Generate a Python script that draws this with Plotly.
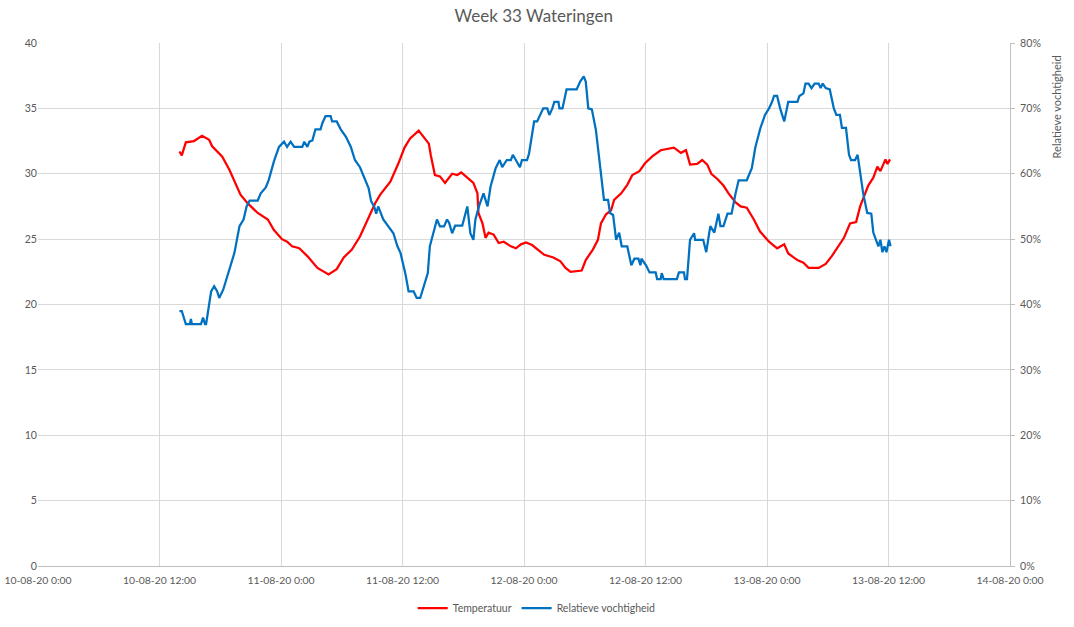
import pandas as pd
import plotly.graph_objects as go

# ---- data (hours after 10-08-20 0:00) ----
temp_hours = [13.97, 14.2, 14.6, 15.4, 16.2, 16.9, 17.2, 18.2, 18.9, 19.5, 20.0, 20.7, 21.7, 22.7, 23.3,
              24.1, 24.6, 25.1, 25.8, 26.6, 27.6, 28.7, 29.5, 30.2, 31.0, 31.8, 32.6, 33.3, 33.8, 34.8,
              35.6, 36.2, 36.75, 37.6, 38.1, 38.6, 38.8, 39.2, 39.7, 40.2, 40.9, 41.4, 41.8, 42.4, 43.0,
              43.4, 43.5, 43.9, 44.2, 44.5, 45.0, 45.5, 46.0, 46.7, 47.2, 47.7, 48.2, 48.8, 49.3, 50.0,
              50.9, 51.6, 52.1, 52.6, 53.7, 54.1, 54.8, 55.3, 55.6, 56.1, 56.6, 56.9, 57.6, 58.2, 58.7,
              59.4, 59.95, 60.7, 61.5, 62.8, 63.5, 64.0, 64.4, 65.1, 65.6, 66.1, 66.5, 67.1, 67.7, 68.2,
              68.9, 69.4, 70.0, 70.7, 71.3, 72.2, 73.0, 73.7, 74.1, 75.0, 75.6, 76.1, 77.1, 77.8, 78.4,
              79.2, 79.6, 80.2, 80.8, 81.2, 82.0, 82.5, 82.9, 83.2, 83.7, 83.9, 84.15]
temperatuur = [31.7, 31.4, 32.4, 32.5, 32.9, 32.6, 32.1, 31.3, 30.3, 29.3, 28.4, 27.75, 27.0, 26.5, 25.7,
               25.0, 24.8, 24.45, 24.3, 23.7, 22.8, 22.3, 22.7, 23.6, 24.2, 25.2, 26.5, 27.75, 28.4, 29.4,
               30.8, 32.0, 32.7, 33.3, 32.8, 32.3, 31.4, 29.9, 29.8, 29.3, 30.0, 29.9, 30.1, 29.7, 29.3,
               28.5, 27.0, 26.2, 25.1, 25.5, 25.35, 24.7, 24.8, 24.45, 24.3, 24.6, 24.75, 24.55, 24.25, 23.8,
               23.6, 23.3, 22.8, 22.5, 22.6, 23.4, 24.2, 24.95, 26.2, 26.9, 27.2, 28.0, 28.5, 29.15, 29.9,
               30.2, 30.8, 31.35, 31.8, 32.0, 31.6, 31.8, 30.7, 30.75, 31.05, 30.7, 30.0, 29.6, 29.1, 28.5,
               27.8, 27.5, 27.4, 26.5, 25.6, 24.8, 24.3, 24.6, 23.9, 23.4, 23.2, 22.8, 22.8, 23.1, 23.7,
               24.6, 25.1, 26.2, 26.3, 27.5, 29.1, 29.7, 30.55, 30.2, 31.1, 30.75, 31.1]

rh_hours = [13.97, 14.2, 14.6, 15.0, 15.1, 15.2, 16.1, 16.3, 16.5, 16.6, 17.1, 17.4, 17.7, 17.9, 18.3,
            18.6, 19.0, 19.4, 19.9, 20.3, 20.6, 20.9, 21.7, 22.0, 22.5, 22.8, 23.3, 23.8, 24.3, 24.6,
            24.95, 25.3, 26.1, 26.3, 26.6, 26.8, 27.1, 27.4, 27.9, 28.1, 28.4, 28.9, 29.05, 29.5, 29.9,
            30.4, 30.9, 31.3, 31.8, 32.3, 32.65, 32.9, 33.2, 33.4, 33.6, 34.1, 34.6, 35.1, 35.5, 35.8,
            36.3, 36.6, 37.1, 37.4, 37.75, 38.1, 38.5, 38.7, 39.1, 39.4, 39.7, 40.1, 40.4, 40.6, 40.9,
            41.2, 41.9, 42.4, 42.7, 43.0, 43.2, 43.55, 44.0, 44.4, 44.7, 45.2, 45.6, 45.85, 46.3, 46.7,
            46.9, 47.3, 47.6, 47.8, 48.3, 48.5, 49.0, 49.3, 49.6, 49.9, 50.3, 50.5, 50.8, 51.0, 51.4,
            51.5, 51.8, 52.2, 53.2, 53.55, 53.9, 54.1, 54.35, 54.7, 55.1, 55.5, 55.9, 56.3, 56.5, 56.8,
            57.1, 57.4, 57.65, 58.2, 58.6, 58.9, 59.3, 59.5, 59.6, 60.05, 60.4, 61.0, 61.15, 61.5, 61.6,
            61.8, 63.1, 63.3, 63.8, 63.9, 64.1, 64.4, 64.8, 64.9, 65.7, 66.0, 66.4, 66.8, 67.2, 67.4,
            67.7, 68.1, 68.5, 68.9, 69.2, 70.0, 70.5, 70.85, 71.35, 71.8, 72.2, 72.5, 72.7, 73.0, 73.3,
            73.7, 74.1, 75.0, 75.2, 75.6, 75.8, 76.1, 76.4, 76.7, 77.1, 77.3, 77.5, 77.8, 78.2, 78.6,
            78.85, 79.2, 79.4, 79.8, 80.1, 80.3, 80.7, 80.95, 81.2, 81.5, 81.9, 82.3, 82.5, 82.8, 83.0,
            83.2, 83.4, 83.6, 83.8, 84.05, 84.2]
vochtigheid = [39.0, 39.0, 37.0, 37.0, 37.8, 37.0, 37.0, 38.0, 37.0, 37.0, 42.0, 42.8, 42.0, 41.0, 42.3,
               43.9, 45.85, 47.9, 52.0, 53.0, 55.0, 55.9, 55.9, 57.0, 57.9, 59.1, 61.9, 64.1, 64.9, 64.1,
               64.9, 64.1, 64.1, 64.9, 64.1, 64.9, 65.1, 66.8, 66.8, 67.8, 68.8, 68.8, 68.0, 68.0, 66.8,
               65.7, 64.1, 62.1, 61.0, 59.1, 57.8, 55.8, 55.0, 53.9, 55.0, 53.0, 52.0, 50.9, 48.9, 47.9,
               44.6, 42.0, 42.0, 41.0, 41.0, 42.8, 44.8, 48.9, 51.4, 53.0, 51.95, 51.95, 53.0, 52.5, 50.9,
               52.05, 52.05, 55.0, 50.9, 49.9, 53.0, 55.0, 57.0, 55.0, 58.05, 60.85, 62.1, 61.0, 62.1, 62.1,
               62.9, 61.9, 61.0, 62.1, 62.1, 63.1, 68.0, 68.0, 69.0, 70.0, 70.0, 69.0, 70.0, 71.0, 71.0,
               70.0, 70.0, 72.9, 72.9, 74.1, 74.9, 74.1, 70.0, 69.85, 66.7, 61.6, 56.0, 56.0, 54.0, 53.7,
               49.9, 51.0, 48.9, 48.9, 46.0, 47.0, 47.0, 46.0, 47.0, 46.0, 44.9, 44.9, 43.9, 43.9, 44.8,
               43.9, 43.9, 44.9, 44.9, 43.9, 43.9, 49.9, 50.9, 49.9, 49.9, 48.0, 52.0, 51.0, 53.9, 52.0,
               52.0, 53.9, 53.9, 57.0, 59.0, 59.0, 60.85, 64.05, 67.0, 69.0, 70.0, 71.0, 71.9, 71.9, 70.0,
               68.0, 71.0, 71.0, 71.9, 72.3, 73.8, 73.8, 73.1, 73.8, 73.8, 73.1, 73.8, 73.1, 72.9, 70.0,
               69.0, 69.0, 67.0, 67.0, 62.9, 62.1, 62.1, 62.9, 60.1, 57.0, 54.0, 53.9, 51.0, 49.9, 48.9,
               49.9, 48.0, 48.9, 48.0, 49.9, 48.9]

start = pd.Timestamp("2020-08-10 00:00")
x_range = ["2020-08-10 00:00", "2020-08-14 00:00"]
title_text = "Week 33 Wateringen"
series_names = ["Temperatuur", "Relatieve vochtigheid"]
y2_title = "Relatieve vochtigheid"

temp_x = [start + pd.Timedelta(hours=h) for h in temp_hours]
rh_x = [start + pd.Timedelta(hours=h) for h in rh_hours]

FONT = "Lato"
GREY = "#595959"
W, H = 1074, 627

# target positions (page body margin removed below)
PL, PR, PT, PB = 38, 1010.5, 43, 566.5

fig = go.Figure()
fig.add_trace(go.Scatter(x=temp_x, y=temperatuur, mode="lines", name=series_names[0],
                         line=dict(color="#FF0000", width=2.25)))
fig.add_trace(go.Scatter(x=rh_x, y=vochtigheid, mode="lines", name=series_names[1], yaxis="y2",
                         line=dict(color="#0070C0", width=2.25)))

fig.update_layout(
    width=W, height=H,
    margin=dict(l=PL, r=W - PR, t=PT, b=H - PB, autoexpand=False),
    paper_bgcolor="white", plot_bgcolor="white",
    font=dict(family=FONT, size=11, color=GREY),
    title=dict(text=title_text, x=(534 - PL) / (PR - PL), xanchor="center", xref="paper",
               yref="container", y=1 - 16 / H, yanchor="middle",
               font=dict(family=FONT, size=17, color=GREY)),
    xaxis=dict(range=x_range, type="date", dtick=12 * 3600 * 1000, tick0="2020-08-10 00:00",
               tickformat="%d-%m-%y %-H:%M", showgrid=True, gridcolor="#d9d9d9", gridwidth=1,
               showline=True, linecolor="#bfbfbf", linewidth=1, ticks="", zeroline=False,
               automargin=False, ticklabeloverflow="allow", ticklabelstandoff=5,
               tickfont=dict(size=10.4, color=GREY)),
    yaxis=dict(range=[0, 40], dtick=5, showgrid=True, gridcolor="#d9d9d9", zeroline=False,
               showline=False, ticks="", automargin=False,
               tickfont=dict(size=10.6, color=GREY)),
    yaxis2=dict(range=[0, 80], dtick=10, ticksuffix="%", overlaying="y", side="right",
                showgrid=False, zeroline=False, showline=True, linecolor="#bfbfbf", linewidth=1,
                ticks="outside", ticklen=4, tickcolor="#bfbfbf", automargin=False,
                ticklabelstandoff=3,
                tickfont=dict(size=10.6, color=GREY)),
    legend=dict(orientation="h", x=(537 - PL) / (PR - PL), xanchor="center", xref="paper",
                yref="container", y=1 - 608 / H, yanchor="middle",
                font=dict(size=10.5, color=GREY), tracegroupgap=0),
    showlegend=True,
    annotations=[dict(text=y2_title, xref="paper", yref="paper",
                      x=(1057 - PL) / (PR - PL), y=(PB - 107) / (PB - PT),
                      xanchor="center", yanchor="middle", showarrow=False, textangle=-90,
                      font=dict(family=FONT, size=11, color=GREY))],
)

fig.write_html("out.html", config={"displayModeBar": False},
               post_script="document.body.style.margin='0';")
